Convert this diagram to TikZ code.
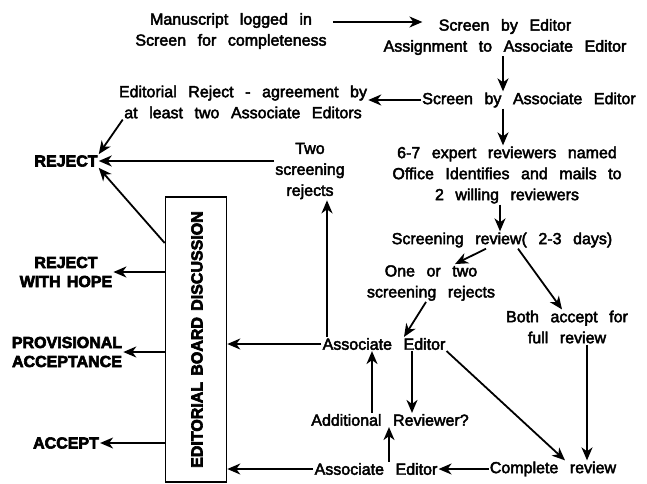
\documentclass[tikz,border=0pt]{standalone}
\usepackage{fontspec}
\setmainfont{Liberation Sans}[WordSpace=2.6]
\newfontfamily\capfont{Liberation Sans Bold}[WordSpace=1.4]
\newcommand\heavytext[1]{\special{pdf:literal direct 2 Tr #1 w}}
\usetikzlibrary{arrows.meta}
\tikzset{txt/.style={align=center, inner sep=1pt, font=\fontsize{16}{21}\selectfont\heavytext{0.45}},
	outcome/.style={align=center, inner sep=1pt, font=\fontsize{16}{19}\selectfont\capfont\heavytext{0.6}},
	arr/.style={-{Stealth[length=13pt,width=11pt,inset=4pt]}, line width=1.8pt}}

\begin{document}
\begin{tikzpicture}[x=1pt,y=-1pt]
		\useasboundingbox (0,0) rectangle (647,483);
		% main stream, right side
		\node[txt] (man) at (231,31) {Manuscript logged in\\Screen for completeness};
		\node[txt] (ed) at (505,37) {Screen by Editor\\Assignment to Associate Editor};
		\node[txt] (sae) at (529,100) {Screen by Associate Editor};
		\node[txt] (er) at (243,102) {Editorial Reject - agreement by\\at least two Associate Editors};
		\node[txt] (six) at (507,175) {6-7 expert reviewers named\\Office Identifies and mails to\\2 willing reviewers};
		\node[txt] (scr) at (502,240) {Screening review( 2-3 days)};
		\node[txt] (one) at (431,283) {One or two\\screening rejects};
		\node[txt] (both) at (567,327) {Both accept for\\full review};
		\node[txt] (ae1) at (384,344) {Associate Editor};
		\node[txt] (tsr) at (310,171) {Two\\screening\\rejects};
		\node[txt] (add) at (390,420) {Additional Reviewer?};
		\node[txt] (ae2) at (376,469) {Associate Editor};
		\node[txt] (cr) at (553,469) {Complete review};
		% board and outcomes
		\node[draw, line width=1.6pt, minimum width=61pt, minimum height=285pt, inner sep=0pt] (board) at (196,339.5) {};
		\node[outcome, rotate=90] (blabel) at ([xshift=1pt]board.center) {EDITORIAL BOARD DISCUSSION};
		\node[outcome] (rej) at (66,161) {REJECT};
		\node[outcome] (rwh) at (66,272) {REJECT\\WITH HOPE};
		\node[outcome] (prov) at (67,352) {PROVISIONAL\\ACCEPTANCE};
		\node[outcome] (acc) at (66,443) {ACCEPT};

		\draw[arr] ([xshift=5pt]man.east |- 0,22) -- ([xshift=40pt]ed.west |- 0,22);
		\draw[arr] ([xshift=-2pt]ed.south) -- ([xshift=-2pt]ed.south |- sae.north);
		\draw[arr] (sae.west) -- (er.east |- sae.west);
		\draw[arr] ([xshift=5pt]er.south west) -- (rej.north east);
		\draw[arr] (tsr.west |- rej.east) -- (rej.east);
		\draw[arr] ([xshift=-2pt]ed.south |- sae.south) -- ([xshift=-2pt]ed.south |- six.north);
		\draw[arr] ([xshift=-7pt]six.south) -- ([xshift=-2pt]scr.north);
		\draw[arr] ([xshift=-16pt]scr.south) -- ([xshift=24pt]one.north);
		\draw[arr] ([xshift=16pt]scr.south) -- ([xshift=-5pt]both.north);
		\draw[arr] ([xshift=-5pt]one.south) -- ([xshift=20pt]ae1.north);
		\draw[arr] ([xshift=20pt]both.south) -- ([xshift=20pt]both.south |- cr.north);
		\draw[arr] (ae1.west) -- (board.east |- ae1.west);
		\draw[arr] ([xshift=17pt]tsr.south |- ae1.north) -- ([xshift=17pt]tsr.south);
		\draw[arr] (ae1.south east) -- ([xshift=12pt]cr.north);
		\draw[arr] ([xshift=28pt]ae1.south) -- ([xshift=28pt]ae1.south |- add.north);
		\draw[arr] ([xshift=-18pt]add.north) -- ([xshift=-18pt]add.north |- ae1.south);
		\draw[arr] ([xshift=13pt]ae2.north) -- ([xshift=13pt]ae2.north |- add.south);
		\draw[arr] (cr.west) -- (ae2.east);
		\draw[arr] (ae2.west) -- (board.east |- ae2.west);
		\draw[arr] (board.west |- 0,243) -- (rej.south east);
		\draw[arr] (board.west |- rwh.east) -- (rwh.east);
		\draw[arr] (board.west |- prov.east) -- (prov.east);
		\draw[arr] (board.west |- acc.east) -- (acc.east);
\end{tikzpicture}
\end{document}
